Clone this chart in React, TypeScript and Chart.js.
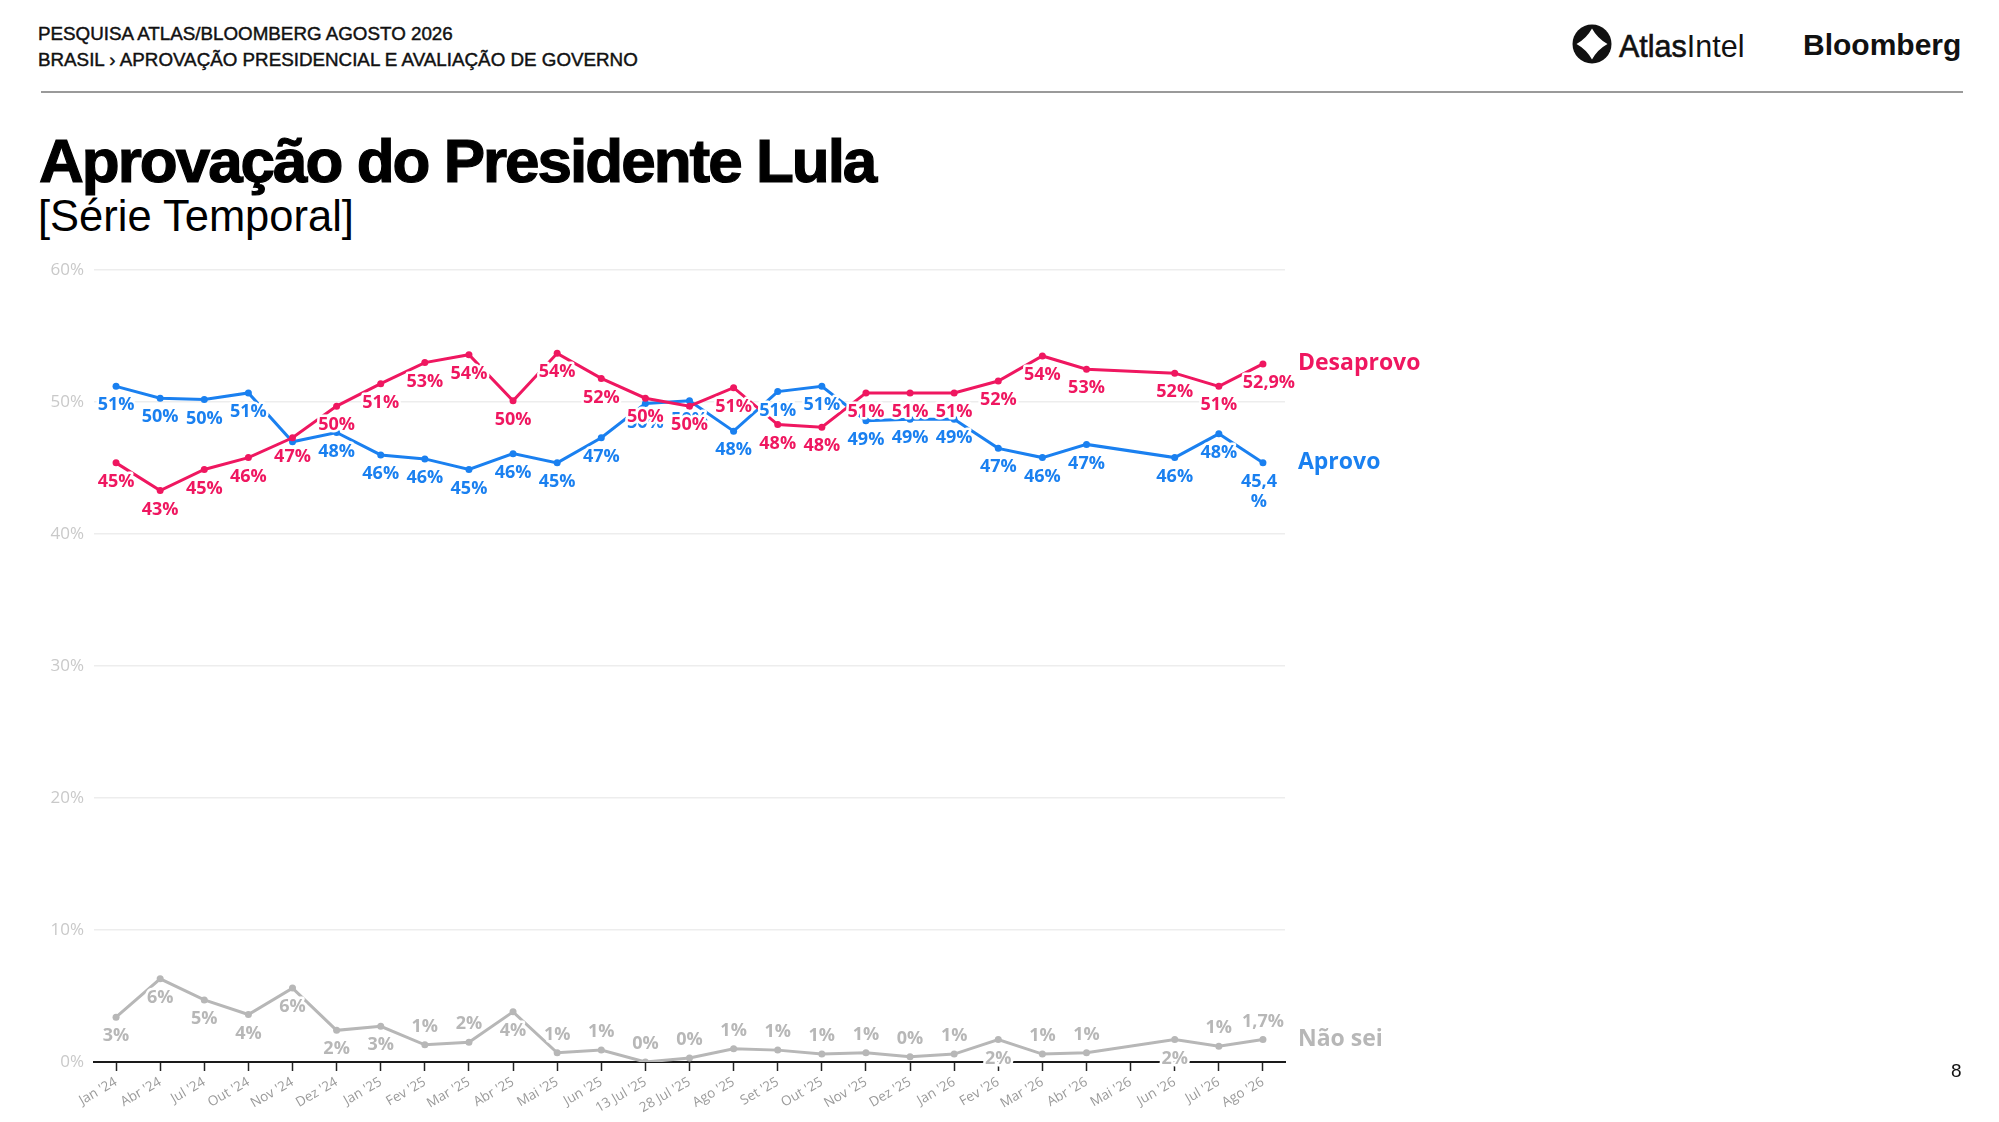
import React, { useEffect, useRef } from 'react'
import { Chart, registerables } from 'chart.js'

Chart.register(...registerables)

// ============================================================================
// DATA
// ============================================================================

const CATEGORIES = [
  "Jan '24", "Abr '24", "Jul '24", "Out '24", "Nov '24", "Dez '24",
  "Jan '25", "Fev '25", "Mar '25", "Abr '25", "Mai '25", "Jun '25",
  "13 Jul '25", "28 Jul '25", "Ago '25", "Set '25", "Out '25", "Nov '25",
  "Dez '25", "Jan '26", "Fev '26", "Mar '26", "Abr '26", "Mai '26",
  "Jun '26", "Jul '26", "Ago '26",
]

const DESAPROVO = [
  45.4, 43.3, 44.9, 45.8, 47.3, 49.7, 51.4, 53.0, 53.6, 50.1, 53.7, 51.8,
  50.3, 49.7, 51.1, 48.3, 48.1, 50.7, 50.7, 50.7, 51.6, 53.5, 52.5, null,
  52.2, 51.2, 52.9,
]

const APROVO = [
  51.2, 50.3, 50.2, 50.7, 47.0, 47.7, 46.0, 45.7, 44.9, 46.1, 45.4, 47.3,
  49.9, 50.1, 47.8, 50.8, 51.2, 48.6, 48.7, 48.7, 46.5, 45.8, 46.8, null,
  45.8, 47.6, 45.4,
]

const NAO_SEI = [
  3.4, 6.3, 4.7, 3.6, 5.6, 2.4, 2.7, 1.3, 1.5, 3.8, 0.7, 0.9,
  0.0, 0.3, 1.0, 0.9, 0.6, 0.7, 0.4, 0.6, 1.7, 0.6, 0.7, null,
  1.7, 1.2, 1.7,
]

const Y_TICKS = [0, 10, 20, 30, 40, 50, 60]

// label placement per point: b = below, a = above, n = none
const DES_PLACE = 'bbbbbbbbbbbbbbbbbbbbbbbbbbb'
const APR_PLACE = 'bbbbnbbbbbbbbbbbbbbbbbbbbbb'
const NS_PLACE = 'bbbbbbbaabaaaaaaaaaabaanbaa'

const PINK = '#ef1760'
const BLUE = '#1a80f0'
const GRAY = '#b7b7b7'

const SERIES = [
  { name: 'Desaprovo', data: DESAPROVO, color: PINK, place: DES_PLACE, wrapLast: false },
  { name: 'Aprovo', data: APROVO, color: BLUE, place: APR_PLACE, wrapLast: true },
  { name: 'Não sei', data: NAO_SEI, color: GRAY, place: NS_PLACE, wrapLast: false },
]

const FONT = "'Open Sans', 'Noto Sans', sans-serif"

// ============================================================================
// PLUGINS
// ============================================================================

const formatValue = (v: number, isLast: boolean) =>
  isLast ? `${v.toFixed(1).replace('.', ',')}%` : `${Math.round(v)}%`

const pointLabelsPlugin = {
  id: 'pointLabels',
  afterDatasetsDraw(chart: any) {
    const ctx = chart.ctx
    ctx.save()
    ctx.font = `bold 18px ${FONT}`
    ctx.textAlign = 'center'
    ctx.textBaseline = 'middle'
    ctx.lineJoin = 'round'
    ctx.lineWidth = 5
    ctx.strokeStyle = '#ffffff'
    // draw in reverse so that the first series sits on top
    for (let di = SERIES.length - 1; di >= 0; di--) {
      const s = SERIES[di]
      const meta = chart.getDatasetMeta(di)
      const last = s.data.length - 1
      meta.data.forEach((pt: any, i: number) => {
        const v = s.data[i]
        if (v == null || s.place[i] === 'n') return
        const text = formatValue(v, i === last)
        const below = s.place[i] === 'b'
        const y = below ? pt.y + 19 : pt.y - 18
        ctx.fillStyle = s.color
        if (i === last && s.wrapLast) {
          const parts = [text.slice(0, -1), '%']
          parts.forEach((p, k) => {
            ctx.strokeText(p, pt.x - 4, y + k * 20)
            ctx.fillText(p, pt.x - 4, y + k * 20)
          })
        } else {
          const x = i === last && below ? pt.x + 6 : pt.x
          ctx.strokeText(text, x, y)
          ctx.fillText(text, x, y)
        }
      })
    }
    ctx.restore()
  },
}

const seriesNamesPlugin = {
  id: 'seriesNames',
  afterDatasetsDraw(chart: any) {
    const ctx = chart.ctx
    ctx.save()
    ctx.font = `bold 23px ${FONT}`
    ctx.textAlign = 'left'
    ctx.textBaseline = 'middle'
    SERIES.forEach((s, di) => {
      const meta = chart.getDatasetMeta(di)
      const pt = meta.data[s.data.length - 1]
      ctx.fillStyle = s.color
      ctx.fillText(s.name, pt.x + 35, pt.y)
    })
    ctx.restore()
  },
}

// ============================================================================
// CHART
// ============================================================================

const ApprovalChart: React.FC = () => {
  const canvasRef = useRef<HTMLCanvasElement>(null)

  useEffect(() => {
    if (!canvasRef.current) return
    const chart = new Chart(canvasRef.current, {
      type: 'line',
      data: {
        labels: CATEGORIES,
        datasets: SERIES.map((s) => ({
          label: s.name,
          data: s.data,
          borderColor: s.color,
          backgroundColor: s.color,
          borderWidth: 3,
          pointRadius: 3.5,
          pointBorderWidth: 0,
          pointBackgroundColor: s.color,
          spanGaps: true,
          tension: 0,
        })),
      },
      options: {
        animation: false,
        responsive: false,
        maintainAspectRatio: false,
        devicePixelRatio: 1,
        layout: { padding: { top: 19, right: 714, bottom: 0, left: 0 } },
        plugins: {
          legend: { display: false },
          tooltip: { enabled: false },
        },
        scales: {
          x: {
            offset: true,
            grid: {
              drawOnChartArea: false,
              drawTicks: true,
              tickLength: 9,
              tickColor: '#222',
              tickWidth: 1.5,
            },
            border: { color: '#1a1a1a', width: 2 },
            ticks: {
              autoSkip: false,
              minRotation: 30,
              maxRotation: 30,
              color: '#9a9a9a',
              padding: 3,
              font: { family: FONT, size: 13.5 },
            },
            afterFit: (s: any) => {
              s.height = 60
            },
          },
          y: {
            min: Y_TICKS[0],
            max: Y_TICKS[Y_TICKS.length - 1],
            afterBuildTicks: (s: any) => {
              s.ticks = Y_TICKS.map((v) => ({ value: v }))
            },
            ticks: {
              callback: (v: any) => `${v}%`,
              padding: 10,
              color: '#c9c9c9',
              font: { family: FONT, size: 17 },
            },
            grid: { color: '#ededed', drawTicks: false, lineWidth: 1.5 },
            border: { display: false },
            afterFit: (s: any) => {
              s.width = 94
            },
          },
        },
      },
      plugins: [pointLabelsPlugin, seriesNamesPlugin],
    })
    return () => chart.destroy()
  }, [])

  return (
    <canvas
      ref={canvasRef}
      width={1999}
      height={872}
      style={{ position: 'absolute', left: 0, top: 250, width: 1999, height: 872 }}
    />
  )
}

// ============================================================================
// PAGE
// ============================================================================

const HEAD = "'Liberation Sans', Arial, sans-serif"

const AtlasIcon: React.FC = () => (
  <svg
    width={40}
    height={40}
    viewBox="-20 -20 40 40"
    style={{ position: 'absolute', left: 1572, top: 24 }}
  >
    <circle cx={0} cy={0} r={19.5} fill="#111" />
    <path
      d="M0,-15.5 Q5.5,-5.5 15.5,0 Q5.5,5.5 0,15.5 Q-5.5,5.5 -15.5,0 Q-5.5,-5.5 0,-15.5 Z"
      fill="#fff"
    />
  </svg>
)

export default function App() {
  const abs = (left: number, top: number, extra: React.CSSProperties = {}): React.CSSProperties => ({
    position: 'absolute',
    left,
    top,
    lineHeight: 1,
    whiteSpace: 'nowrap',
    fontFamily: HEAD,
    color: '#111',
    ...extra,
  })

  return (
    <div
      style={{
        position: 'relative',
        width: 1999,
        height: 1122,
        background: '#fff',
        overflow: 'hidden',
      }}
    >
      <style>{'body{margin:0}'}</style>

      {/* Header */}
      <div style={abs(38, 25, { fontSize: 18.8, WebkitTextStroke: '0.45px #111' })}>
        PESQUISA ATLAS/BLOOMBERG AGOSTO 2026
      </div>
      <div style={abs(38, 51, { fontSize: 18.8, WebkitTextStroke: '0.45px #111' })}>
        BRASIL › APROVAÇÃO PRESIDENCIAL E AVALIAÇÃO DE GOVERNO
      </div>

      <AtlasIcon />
      <div style={abs(1619, 31, { fontSize: 30.5 })}>
        <span style={{ WebkitTextStroke: '0.6px #111' }}>Atlas</span>
        <span>Intel</span>
      </div>
      <div style={abs(1803, 30, { fontSize: 30, fontWeight: 700 })}>Bloomberg</div>

      <div
        style={{
          position: 'absolute',
          left: 41,
          top: 91,
          width: 1922,
          height: 2,
          background: '#9a9a9a',
        }}
      />

      {/* Title */}
      <div
        style={abs(39, 130, {
          fontSize: 62,
          fontWeight: 700,
          letterSpacing: -2,
          color: '#000',
          WebkitTextStroke: '1.2px #000',
        })}
      >
        Aprovação do Presidente Lula
      </div>
      <div style={abs(38, 195, { fontSize: 43.5, color: '#000' })}>[Série Temporal]</div>

      <ApprovalChart />

      <div style={abs(1951, 1061, { fontSize: 19 })}>8</div>
    </div>
  )
}
